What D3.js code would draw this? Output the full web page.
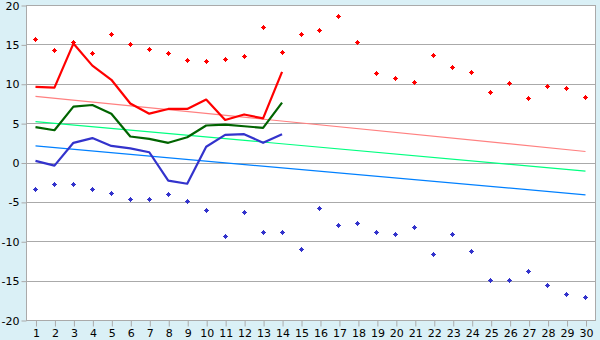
<!DOCTYPE html>
<html>
<head>
<meta charset="utf-8">
<script src="https://cdn.jsdelivr.net/npm/d3@7"></script>
<style>
  body { margin: 0; background: #daf0f6; }
  svg { display: block; }
  text { font-family: "DejaVu Sans", Verdana, sans-serif; font-size: 10px; fill: #000; }
</style>
</head>
<body>
<div id="vis"></div>
<script>
var w = 600, h = 340;

var days = d3.range(1, 31);
var yTicks = [-20, -15, -10, -5, 0, 5, 10, 15, 20];

// daily points (maxima / minima)
var maxPts = [15.6, 14.2, 15.3, 13.9, 16.3, 15.0, 14.4, 13.9, 13.0, 12.8,
              13.1, 13.4, 17.2, 14.0, 16.3, 16.7, 18.6, 15.3, 11.3, 10.7,
              10.2, 13.6, 12.0, 11.4, 8.9, 10.0, 8.1, 9.7, 9.4, 8.3];
var minPts = [-3.4, -2.8, -2.8, -3.4, -3.9, -4.7, -4.7, -4.0, -4.9, -6.1,
              -9.4, -6.3, -8.9, -8.9, -11.0, -5.8, -8.0, -7.7, -8.9, -9.2,
              -8.2, -11.7, -9.1, -11.3, -15.0, -15.0, -13.8, -15.6, -16.7, -17.1];

// lines for the first 14 days
var maxLine = [9.6, 9.5, 15.1, 12.3, 10.5, 7.5, 6.2, 6.8, 6.8, 8.0, 5.4, 6.1, 5.6, 11.5];
var avgLine = [4.5, 4.1, 7.1, 7.3, 6.2, 3.3, 3.0, 2.5, 3.2, 4.7, 4.8, 4.6, 4.4, 7.6];
var minLine = [0.2, -0.4, 2.5, 3.1, 2.1, 1.8, 1.3, -2.3, -2.7, 2.0, 3.5, 3.6, 2.5, 3.6];

// trend lines (day 1 -> day 30)
var trendDays = [1, 30];
var trendMax = [8.4, 1.4];
var trendAvg = [5.2, -1.1];
var trendMin = [2.1, -4.1];

var svg = d3.select("div#vis").append("svg")
  .attr("width", w)
  .attr("height", h);

var x = d3.scalePoint().domain(days).range([26, 595]).padding(0.5);
var y = d3.scaleLinear().domain([-20, 20]).range([320, 5]);

// plot area
svg.append("rect")
  .attr("x", 26).attr("y", 5)
  .attr("width", 569).attr("height", 315)
  .style("fill", "#fff");

// grid
svg.append("g").selectAll("line").data(yTicks).enter().append("line")
  .attr("x1", 26).attr("x2", 595.5)
  .attr("y1", function(d) { return Math.round(y(d)) + 0.5; })
  .attr("y2", function(d) { return Math.round(y(d)) + 0.5; })
  .style("stroke", "#aaa");

svg.append("line")
  .attr("x1", 595.5).attr("x2", 595.5).attr("y1", 5).attr("y2", 321)
  .style("stroke", "#aaa");

// axes
var yAxis = svg.append("g")
  .attr("transform", "translate(26.5,0.5)")
  .call(d3.axisLeft(y).tickValues(yTicks).tickSize(5).tickPadding(2)
    .tickFormat(function(d) { return String(d); }));

var xAxis = svg.append("g")
  .attr("transform", "translate(0.5,320.5)")
  .call(d3.axisBottom(x).tickSize(6).tickPadding(3));

svg.selectAll(".domain, .tick line").style("stroke", "#aaa");
yAxis.select(".domain").attr("d", "M0,4.5V320");
xAxis.select(".domain").attr("d", "M26,0H595");
yAxis.selectAll("text").style("font-size", "11px");
xAxis.selectAll("text").style("font-size", "11px");

// trend lines
var tline = d3.line()
  .x(function(d) { return x(d[0]); })
  .y(function(d) { return y(d[1]); });

[[trendMax, "#ff8080"], [trendAvg, "#00ff80"], [trendMin, "#0080ff"]].forEach(function(t) {
  svg.append("path")
    .datum(trendDays.map(function(d, i) { return [d, t[0][i]]; }))
    .attr("d", tline)
    .style("fill", "none")
    .style("stroke", t[1])
    .style("stroke-width", 1.2);
});

// daily lines
var line = d3.line()
  .x(function(d, i) { return x(days[i]); })
  .y(function(d) { return y(d); });

[[maxLine, "#ff0000"], [avgLine, "#006400"], [minLine, "#3333cc"]].forEach(function(s) {
  svg.append("path")
    .datum(s[0])
    .attr("d", line)
    .style("fill", "none")
    .style("stroke", s[1])
    .style("stroke-width", 2.2)
    .style("stroke-linejoin", "round");
});

// markers
var marker = "M-0.5,-2.5H0.5V-1.5H1.5V-0.5H2.5V0.5H1.5V1.5H0.5V2.5H-0.5V1.5H-1.5V0.5H-2.5V-0.5H-1.5V-1.5H-0.5Z";

[[maxPts, "#ff0000"], [minPts, "#3333cc"]].forEach(function(s) {
  svg.append("g").selectAll("path").data(s[0]).enter().append("path")
    .attr("d", marker)
    .attr("transform", function(d, i) {
      return "translate(" + (Math.floor(x(days[i])) + 0.5) + "," + (Math.floor(y(d)) + 0.5) + ")";
    })
    .style("fill", s[1])
    .style("shape-rendering", "crispEdges");
});
</script>
</body>
</html>
